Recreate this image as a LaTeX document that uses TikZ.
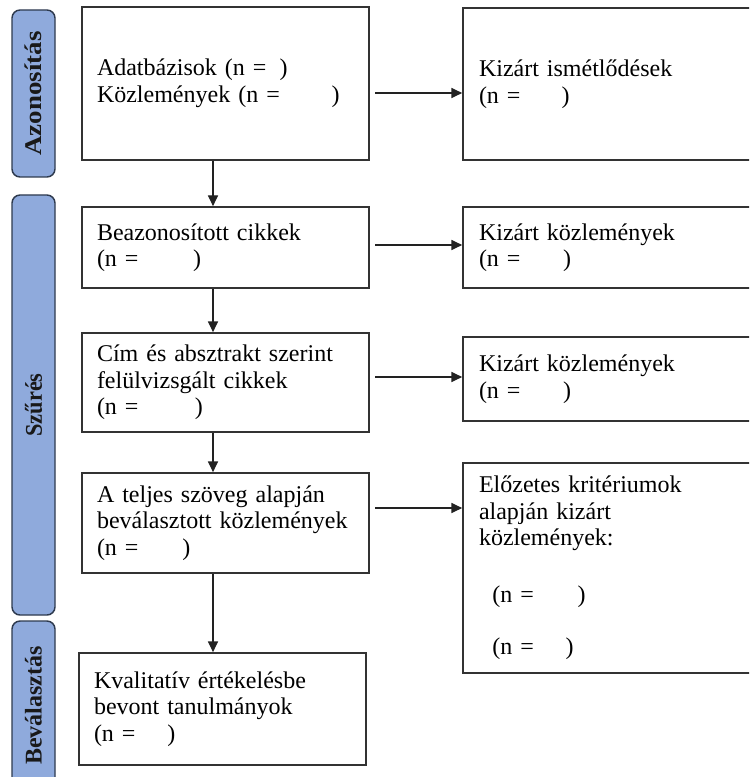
\documentclass[tikz,border=0pt]{standalone}
\usepackage{fontspec}
\setmainfont{Liberation Serif}
\usetikzlibrary{arrows.meta}
\definecolor{sidefill}{HTML}{8FAADC}
\definecolor{sidedraw}{HTML}{2E3A4E}
\definecolor{boxdraw}{HTML}{333333}
\definecolor{arrowdraw}{HTML}{222222}
\newcommand\bodyfont{\fontsize{18pt}{19.9pt}\selectfont\spaceskip=0.16em plus 0.04em minus 0.02em\relax}
\newcommand\sidefont{\fontsize{18pt}{20pt}\selectfont\bfseries}
\newcommand\nfield[2]{\makebox[#1][l]{#2})}
\tikzset{
  mainbox/.style={draw=boxdraw, line width=1.3pt, align=left, font=\bodyfont, text=black,
    inner xsep=11.25pt, inner ysep=0pt, text width=192.75pt},
  sidebox/.style={draw=boxdraw, line width=1.3pt, align=left, font=\bodyfont, text=black,
    inner xsep=12pt, inner ysep=0pt, text width=201pt},
  sidebar/.style={draw=sidedraw, fill=sidefill, line width=1.1pt, rounded corners=6pt,
    minimum width=32.25pt, inner sep=0pt, font=\sidefont, text=black!90},
  arr/.style={draw=arrowdraw, line width=0.8pt, -{Triangle[length=8pt,width=7.5pt]}}
}
\begin{document}
\begin{tikzpicture}[x=0.75pt,y=-0.75pt]
\useasboundingbox (0,0) rectangle (749,777);
\clip (0,0) rectangle (749,777);
% sidebars
\node[sidebar, minimum height=125.25pt] (s1) at (33.5,93.5) {\rotatebox{90}{\scalebox{1.12}[1]{Azonosítás}}};
\node[sidebar, minimum height=315pt] (s2) at (33.5,405) {\rotatebox{90}{\scalebox{0.93}[1]{Szűrés}}};
\node[sidebar, minimum height=126.75pt] (s3) at (33.5,705.5) {\rotatebox{90}{Beválasztás}};
% left column
\node[mainbox, minimum height=114.75pt] (b1) at (225.5,83.5)
  {\nfield{137pt}{Adatbázisok (n =}\\\nfield{176pt}{Közlemények (n =}};
\node[mainbox, minimum height=60.75pt] (b2) at (225.5,247.5)
  {Beazonosított cikkek\\\nfield{72pt}{(n =}};
\node[mainbox, minimum height=74.25pt] (b3) at (225.5,382.5)
  {Cím és absztrakt szerint\\felülvizsgált cikkek\\\nfield{73.5pt}{(n =}};
\node[mainbox, minimum height=75pt] (b4) at (225.5,523)
  {A teljes szöveg alapján\\\mbox{beválasztott közlemények}\\\nfield{64pt}{(n =}};
\node[mainbox, minimum height=84pt] (b5) at (222.5,709)
  {Kvalitatív értékelésbe\\bevont tanulmányok\\\nfield{55pt}{(n =}};
% right column
\node[sidebox, minimum height=114pt] (r1) at (613,84)
  {Kizárt ismétlődések\\\nfield{62pt}{(n =}};
\node[sidebox, minimum height=60.75pt] (r2) at (613,247.5)
  {Kizárt közlemények\\\nfield{63pt}{(n =}};
\node[sidebox, minimum height=63pt] (r3) at (613,379)
  {Kizárt közlemények\\\nfield{63pt}{(n =}};
\node[sidebox, minimum height=157.5pt] (r4) at (613,568)
  {Előzetes kritériumok\\alapján kizárt\\közlemények:\\[22.75pt]\hspace*{10pt}\nfield{64pt}{(n =}\\[19pt]\hspace*{10pt}\nfield{55pt}{(n =}};
% vertical connectors
\coordinate (ax) at (213,0);
\draw[arr] (b1.south -| ax) -- (b2.north -| ax);
\draw[arr] (b2.south -| ax) -- (b3.north -| ax);
\draw[arr] (b3.south -| ax) -- (b4.north -| ax);
\draw[arr] (b4.south -| ax) -- (b5.north -| ax);
% horizontal connectors
\coordinate (h1) at (375,93);
\coordinate (h2) at (375,245);
\coordinate (h3) at (375,377);
\coordinate (h4) at (375,508);
\draw[arr] (h1) -- (h1 -| r1.west);
\draw[arr] (h2) -- (h2 -| r2.west);
\draw[arr] (h3) -- (h3 -| r3.west);
\draw[arr] (h4) -- (h4 -| r4.west);
\end{tikzpicture}
\end{document}
